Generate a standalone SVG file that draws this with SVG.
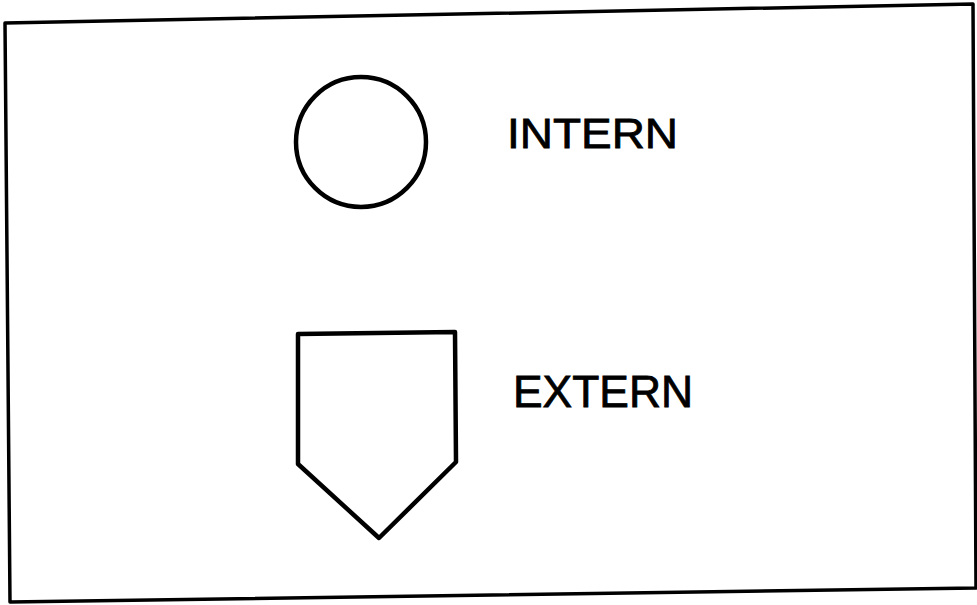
<svg xmlns="http://www.w3.org/2000/svg" width="977" height="605" viewBox="0 0 977 605">
<style>
.s{fill:none;stroke:#000;stroke-width:4.5;stroke-linejoin:round}
.t{font-family:"Liberation Sans",Arial,sans-serif;fill:#000;stroke:#000;stroke-width:0.8}
</style>
<rect width="977" height="605" fill="#fff"/>
<polygon class="s" style="stroke-width:3.5" points="5,23 973,4 976,588 10,602"/>
<g id="intern">
<circle class="s" cx="361" cy="142" r="65"/>
<text class="t" x="507" y="148" font-size="43" textLength="171" lengthAdjust="spacingAndGlyphs">INTERN</text>
</g>
<g id="extern">
<polygon class="s" points="298,334 455,332 456,462 379,538 298,464"/>
<text class="t" x="513" y="407" font-size="45" textLength="180" lengthAdjust="spacingAndGlyphs">EXTERN</text>
</g>
<g id="connectors"></g>
</svg>
